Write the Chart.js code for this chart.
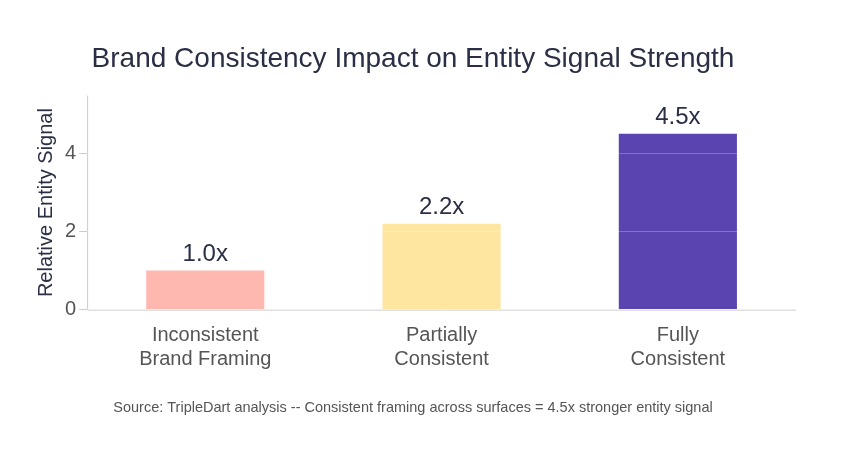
<!DOCTYPE html>
<html><head><meta charset="utf-8">
<script src="https://cdn.jsdelivr.net/npm/chart.js@4/dist/chart.umd.min.js"></script>
<style>html,body{margin:0;background:#fff}#w{width:849px;height:457px}</style>
</head><body><div id="w"><canvas id="c"></canvas></div>
<script>
const categories = [["Inconsistent","Brand Framing"],["Partially","Consistent"],["Fully","Consistent"]];
const values = [1.0, 2.2, 4.5];
const valueLabels = ["1.0x","2.2x","4.5x"];
const colors = ["#FFB8B0","#FFE6A0","#5A45B0"];
const font = "'Liberation Sans', Arial, sans-serif";
const labelPlugin = {id:'lbl', afterDatasetsDraw(ch){
  const ctx=ch.ctx; const meta=ch.getDatasetMeta(0);
  ctx.save(); ctx.font="24px "+font; ctx.fillStyle="#2a2f45"; ctx.textAlign="center"; ctx.textBaseline="bottom";
  meta.data.forEach((b,i)=>ctx.fillText(valueLabels[i], b.x, b.y-4));
  const a=ch.chartArea; ctx.strokeStyle="#ccc"; ctx.lineWidth=1; ctx.beginPath();
  ctx.moveTo(a.left+0.5,a.top); ctx.lineTo(a.left+0.5,a.bottom+0.5); ctx.lineTo(a.right,a.bottom+0.5); ctx.stroke();
  ctx.restore();
}};
new Chart(document.getElementById('c'),{
  type:'bar',
  data:{labels:categories,datasets:[{data:values,backgroundColor:colors,categoryPercentage:1,barPercentage:0.5}]},
  plugins:[labelPlugin],
  options:{responsive:true,maintainAspectRatio:false,animation:false,
    layout:{padding:{left:30,right:53,top:14,bottom:40}},
    plugins:{legend:{display:false},tooltip:{enabled:false},
      title:{display:true,text:"Brand Consistency Impact on Entity Signal Strength",color:"#2a2f45",font:{family:font,size:28,weight:'normal'},padding:{top:28,bottom:20}},
      subtitle:{display:true,position:'bottom',text:"Source: TripleDart analysis -- Consistent framing across surfaces = 4.5x stronger entity signal",color:"#555",font:{family:font,size:14.5},padding:{top:22}}},
    scales:{
      x:{grid:{display:false},border:{display:false},ticks:{color:"#555",padding:6,font:{family:font,size:20}}},
      y:{min:0,max:5.48,grid:{color:"rgba(255,255,255,0.25)",z:1,drawTicks:true,tickColor:"#ccc"},border:{display:false},
        afterBuildTicks(ax){ax.ticks=[0,2,4].map(v=>({value:v}));},
        ticks:{color:"#555",font:{family:font,size:20}},
        title:{display:true,text:"Relative Entity Signal",color:"#2a2f45",font:{family:font,size:20}}}
    }}
});
</script></body></html>
